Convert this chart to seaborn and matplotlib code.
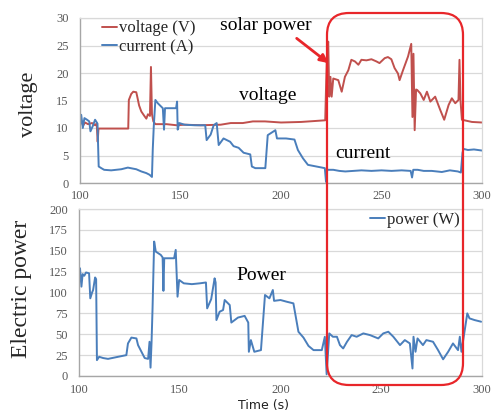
import numpy as np
import pandas as pd
import matplotlib
matplotlib.use("Agg")
import matplotlib.pyplot as plt
import matplotlib.patches as mpatches
import seaborn as sns

# ---------------- data ----------------
volt_t = [100, 100.8, 101.5, 102.5, 104, 106, 107.5, 108.3, 108.8, 109.2, 124, 124.3, 125.5, 126.5,
          128, 128.6, 129.4, 130.5, 132, 133, 133.8, 134.8, 135.3, 135.8, 136.5, 137.5, 143, 148,
          152, 160, 170, 175, 181, 186, 192, 200, 210, 218, 222, 222.5, 223, 223.5, 224, 224.6,
          225.2, 226, 228.5, 230.2, 231.8, 233.5, 235, 236.8, 238.5, 240, 242.5, 245, 247.5, 249,
          251.6, 253.2, 254.9, 256.5, 258.2, 259, 260.7, 263.2, 264.8, 265.4, 265.9, 266.5, 267.2,
          267.8, 269.3, 271, 272.6, 274.3, 276.7, 279.2, 281.2, 283.4, 285, 286.7, 288.3, 288.8,
          289.3, 290, 295, 300]
volt_v = [10.8, 11.3, 10.4, 11.0, 10.7, 10.9, 10.5, 10.8, 7.5, 9.9, 9.9, 15.1, 16.2, 16.6,
          16.5, 15.5, 14.1, 13.0, 12.2, 11.7, 12.5, 12.2, 21.1, 12.5, 11.2, 10.7, 10.7, 10.5,
          10.6, 10.5, 10.6, 10.9, 10.9, 11.2, 11.2, 11.0, 11.1, 11.3, 11.4, 18.7, 24.5, 25.7, 15.7, 19.3,
          15.7, 19.0, 18.7, 16.6, 19.3, 20.5, 22.4, 22.1, 21.5, 22.4, 22.3, 22.5, 22.1, 21.8,
          22.7, 22.9, 22.5, 20.9, 19.9, 18.7, 20.5, 23.0, 25.3, 12.0, 23.5, 9.6, 17.0,
          16.9, 16.3, 15.1, 16.6, 14.8, 15.7, 13.3, 11.5, 14.2, 15.4, 14.5, 15.1, 22.4,
          15.0, 11.5, 11.1, 11.0]

curr_t = [100, 100.6, 101.4, 102.2, 103.5, 104.6, 105.2, 106.3, 107.5, 108.7, 109.3, 110.6, 112,
          115.5, 120.5, 123.8, 128, 130.5, 133, 134.6, 135.8, 136.2, 136.7, 137.5, 138.7, 141.2,
          141.8, 142.3, 145, 147.8, 148.3, 148.6, 149.4, 152, 157, 162.3, 163, 165, 166.5, 168,
          169, 171.4, 174.7, 176.4, 178.9, 181.4, 184.7, 185.5, 187.2, 192.2, 193.4, 197.2, 198,
          202.5, 206.7, 208.4, 210.9, 213.4, 217.6, 221.8, 222.4, 223, 224, 226, 229, 232, 236,
          240, 245, 250, 255, 260, 264.5, 265.2, 265.8, 268, 271, 275, 280, 284, 288, 289.5,
          290.3, 290.8, 293, 296, 300]
curr_v = [10.5, 12.4, 10.0, 11.8, 11.5, 11.2, 9.4, 10.3, 11.5, 10.8, 3.0, 2.7, 2.4,
          2.3, 2.5, 2.8, 2.5, 2.1, 1.8, 1.5, 1.1, 6.1, 10.3, 15.1, 14.5, 13.6,
          9.7, 13.6, 13.6, 13.6, 14.8, 9.7, 10.9, 10.6, 10.5, 10.5, 7.8, 8.8, 10.5, 10.9,
          6.9, 8.1, 7.5, 6.7, 6.4, 5.5, 5.2, 3.0, 2.7, 2.7, 8.7, 9.6, 8.1,
          8.1, 7.9, 6.0, 4.5, 3.3, 3.0, 2.7, 0.2, 2.4, 2.4, 2.4, 2.2, 2.1, 2.2,
          2.3, 2.2, 2.3, 2.2, 2.3, 2.2, 1.0, 2.4, 2.4, 2.2, 2.2, 2.0, 2.3, 2.1, 1.9,
          5.5, 6.2, 6.0, 6.1, 5.9]

pow_t = [100, 100.5, 101.2, 101.8, 102.6, 103.5, 105, 105.6, 106.5, 107, 108, 108.5, 108.9, 110,
         112, 114.4, 119.4, 123.5, 124.3, 126, 128.5, 129.3, 131, 132.6, 134.3, 135, 135.5, 136,
         136.5, 137.3, 138.1, 140.6, 141.5, 141.9, 142.3, 147.2, 148, 148.9, 149.7, 152, 156, 160,
         163, 163.6, 165.6, 167.3, 167.8, 168.2, 169.8, 171.5, 172.3, 174.8, 175.6, 178.9, 182.2,
         184, 184.3, 185.3, 187, 190.3, 192.3, 194.5, 196.2, 196.8, 200, 203, 206.4, 208.9, 211.4,
         213.9, 216.4, 220.5, 222, 222.9, 224.2, 226, 228, 229.5, 231.1, 233, 235.3, 237.8, 241.1,
         244.4, 248.5, 251, 253.5, 256, 259.3, 261.7, 264.2, 265.5, 266, 267, 268, 270.7, 272.4,
         275.7, 278.2, 280.7, 283.2, 285.6, 288.1, 289, 289.8, 292.7, 293.8, 296.3, 299.6]
pow_v = [111, 129, 107, 122, 120, 124, 123, 93, 100, 103, 118, 116, 19, 23,
         21.5, 20.5, 23, 25, 39, 46, 45, 37, 29, 21.5, 20.5, 41, 10, 40,
         81, 161, 149, 145, 142, 102, 141, 141, 151, 95, 115, 111, 110, 111,
         112, 81, 92, 117, 112, 67, 77, 79, 91, 85, 64, 70, 72,
         64, 29, 43, 29, 31, 97, 93, 103, 90, 91, 89, 87, 53, 46,
         36, 31, 31, 47, 2, 51, 47, 47, 37, 33, 41, 49, 47, 51,
         49, 45, 51, 53, 47, 37, 43, 39, 9, 47, 29, 45, 37, 43,
         41, 31, 20, 29, 39, 31, 47, 29, 75, 69, 67, 65]

x_ticks = [100, 150, 200, 250, 300]
top_y_ticks = [0, 5, 10, 15, 20, 25, 30]
bot_y_ticks = [0, 25, 50, 75, 100, 125, 150, 175, 200]

# ---------------- style ----------------
sns.set_style("white")
plt.rcParams['font.family'] = ['Liberation Serif', 'DejaVu Serif']

RED = '#c0504d'
BLUE = '#4a7ebb'
TICKC = '#595959'

fig = plt.figure(figsize=(4.92, 4.12), dpi=100)
ax1 = fig.add_axes([80/492, (412-183)/412, 402/492, 165/412])
ax2 = fig.add_axes([79/492, (412-376)/412, 403/492, 167/412])

df_v = pd.DataFrame({'t': volt_t, 'val': volt_v})
df_c = pd.DataFrame({'t': curr_t, 'val': curr_v})
df_p = pd.DataFrame({'t': pow_t, 'val': pow_v})

sns.lineplot(data=df_v, x='t', y='val', ax=ax1, estimator=None, sort=False,
             color=RED, lw=1.4, label='voltage (V)')
sns.lineplot(data=df_c, x='t', y='val', ax=ax1, estimator=None, sort=False,
             color=BLUE, lw=1.4, label='current (A)')
sns.lineplot(data=df_p, x='t', y='val', ax=ax2, estimator=None, sort=False,
             color=BLUE, lw=1.4, label='power (W)')

for ax, yt, pad_x in ((ax1, top_y_ticks, 5), (ax2, bot_y_ticks, 6)):
    ax.set_xlim(100, 300)
    ax.set_ylim(yt[0], yt[-1])
    ax.set_xticks(x_ticks)
    ax.set_yticks(yt)
    ax.set_xlabel('')
    ax.set_ylabel('')
    ax.grid(axis='y', color='#d9d9d9', lw=0.9)
    ax.grid(axis='x', visible=False)
    ax.set_axisbelow(True)
    ax.tick_params(axis='x', direction='in', length=4, color='#a6a6a6',
                   labelsize=9, labelcolor=TICKC, pad=pad_x)
    ax.tick_params(axis='y', length=0, labelsize=9, labelcolor=TICKC, pad=8)
    for s in ('left', 'bottom'):
        ax.spines[s].set_color('#a6a6a6')
        ax.spines[s].set_linewidth(1.0)
    for s in ('top', 'right'):
        ax.spines[s].set_color('#d9d9d9')
        ax.spines[s].set_linewidth(0.9)

ax1.legend(loc='upper left', bbox_to_anchor=(0.055, 0.985), frameon=False,
           fontsize=12, handlelength=0.9, handletextpad=0.1, labelspacing=0.15,
           borderaxespad=0, borderpad=0)
ax2.legend(loc='upper right', bbox_to_anchor=(0.945, 0.985), frameon=False,
           fontsize=12, handlelength=0.9, handletextpad=0.1,
           borderaxespad=0, borderpad=0)

# annotations
ax1.text(193.5, 16.0, 'voltage', fontsize=14, ha='center', va='center', color='black')
ax1.text(241, 5.3, 'current', fontsize=14, ha='center', va='center', color='black')
ax1.text(192.5, 28.6, 'solar power', fontsize=14, ha='center', va='center',
         color='black', clip_on=False)
ax1.annotate('', xy=(223.6, 21.8), xytext=(207.8, 26.3),
             arrowprops=dict(arrowstyle='-|>', color='#e8262a', lw=2.0,
                             mutation_scale=12, shrinkA=0, shrinkB=0))
ax2.text(190.3, 120, 'Power', fontsize=14, ha='center', va='center', color='black')

fig.text(264/492, 1 - 405.5/412, 'Time (s)', fontsize=9, ha='center', va='center',
         family=['DejaVu Sans'], color='#222222')
fig.text(28/492, 1 - 104/412, 'voltage', fontsize=16, rotation=90,
         ha='center', va='center')
fig.text(22/492, 1 - 289/412, 'Electric power', fontsize=17, rotation=90,
         ha='center', va='center')

# red rounded highlight box spanning both panels
box = mpatches.FancyBboxPatch((3.27, 0.27), 1.36, 3.72,
                              boxstyle=mpatches.BoxStyle('Round', pad=0, rounding_size=0.22),
                              transform=fig.dpi_scale_trans, fill=False,
                              edgecolor='#e8262a', lw=1.6, zorder=10)
fig.add_artist(box)

fig.savefig('out.png', dpi=100)
